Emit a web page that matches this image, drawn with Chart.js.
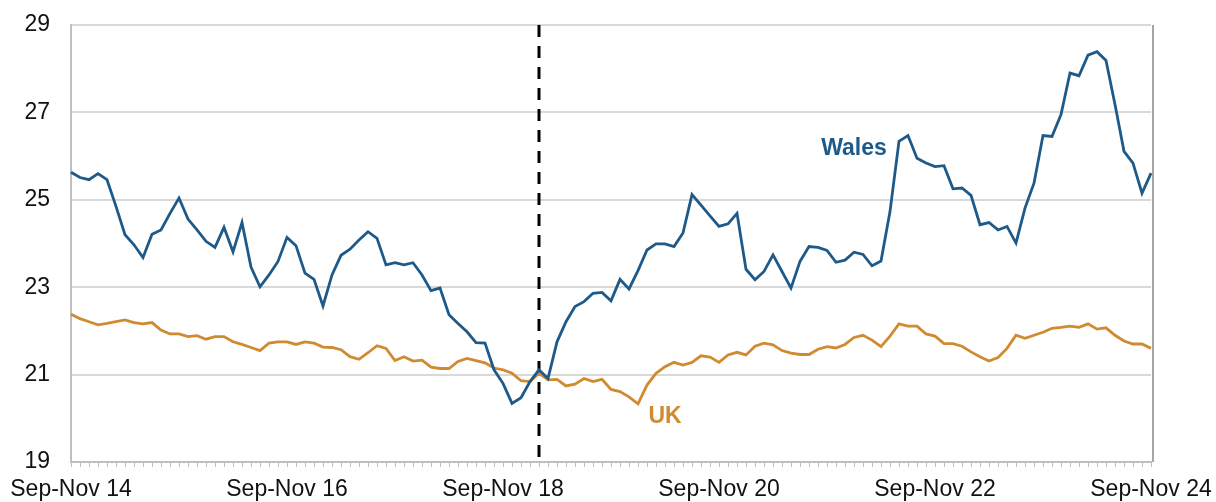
<!DOCTYPE html>
<html>
<head>
<meta charset="utf-8">
<script src="https://cdn.jsdelivr.net/npm/chart.js@4.4.1/dist/chart.umd.min.js"></script>
<style>
  html, body { margin: 0; padding: 0; background: #fff; }
  #wrap { width: 1216px; height: 502px; position: relative; }
</style>
</head>
<body>
<div id="wrap"><canvas id="chart"></canvas></div>
<script>
// rolling three-month periods, Sep-Nov 14 to Sep-Nov 24
const monthNames = ['Jan','Feb','Mar','Apr','May','Jun','Jul','Aug','Sep','Oct','Nov','Dec'];
const periods = [];
for (let i = 0; i <= 120; i++) {
    const yr = 14 + Math.floor((10 + i) / 12);
    periods.push(`${monthNames[(8 + i) % 12]}-${monthNames[(10 + i) % 12]} ${yr}`);
}

const wales = [
    25.63,25.51,25.46,25.60,25.46,24.85,24.20,23.97,23.68,24.21,
    24.31,24.69,25.04,24.56,24.31,24.05,23.91,24.37,23.81,24.48,
    23.46,23.01,23.28,23.59,24.14,23.95,23.32,23.18,22.57,23.28,
    23.73,23.87,24.08,24.27,24.12,23.51,23.56,23.51,23.56,23.28,
    22.92,22.98,22.37,22.17,21.98,21.73,21.72,21.11,20.80,20.34,
    20.47,20.84,21.11,20.91,21.75,22.21,22.56,22.67,22.86,22.88,
    22.69,23.18,22.96,23.38,23.85,23.99,23.99,23.93,24.24,25.12,
    24.88,24.63,24.39,24.45,24.69,23.41,23.17,23.36,23.74,23.36,
    22.98,23.59,23.93,23.91,23.84,23.57,23.62,23.80,23.75,23.49,
    23.60,24.73,26.34,26.47,25.95,25.84,25.76,25.78,25.25,25.27,
    25.10,24.43,24.48,24.31,24.39,24.01,24.81,25.38,26.47,26.45,
    26.95,27.90,27.84,28.31,28.39,28.19,27.18,26.11,25.84,25.15,25.61
];

const uk = [
    22.38,22.28,22.21,22.14,22.17,22.21,22.25,22.19,22.16,22.19,
    22.02,21.93,21.93,21.87,21.89,21.81,21.87,21.87,21.75,21.69,
    21.62,21.55,21.72,21.75,21.75,21.69,21.75,21.72,21.63,21.62,
    21.57,21.41,21.35,21.50,21.66,21.60,21.32,21.41,21.31,21.33,
    21.17,21.14,21.14,21.30,21.37,21.32,21.27,21.15,21.11,21.03,
    20.86,20.84,21.03,20.88,20.89,20.74,20.78,20.91,20.84,20.89,
    20.66,20.61,20.49,20.33,20.76,21.03,21.18,21.28,21.22,21.28,
    21.43,21.40,21.28,21.45,21.51,21.45,21.65,21.72,21.68,21.55,
    21.49,21.46,21.46,21.58,21.64,21.61,21.69,21.85,21.90,21.79,
    21.64,21.88,22.16,22.11,22.11,21.93,21.88,21.71,21.71,21.65,
    21.52,21.41,21.31,21.39,21.60,21.90,21.83,21.90,21.97,22.06,
    22.08,22.11,22.08,22.16,22.04,22.07,21.90,21.77,21.70,21.70,21.60
];

const yTicks = [19, 21, 23, 25, 27, 29];
const labelEvery = 24;
const breakIndex = 52;                 // dashed vertical marker
const walesLabel = { text: 'Wales', at: 87, value: 26.16 };
const ukLabel = { text: 'UK', at: 66, value: 20.04 };

const WALES_COLOR = '#1d5a8a';
const UK_COLOR = '#d08a2f';
const FONT = "'Liberation Sans', Arial, sans-serif";

const extras = {
    id: 'extras',
    beforeDatasetsDraw(chart) {
        const { ctx, chartArea: a, scales: { x } } = chart;
        const px = x.getPixelForValue(breakIndex);
        ctx.save();
        ctx.strokeStyle = '#000';
        ctx.lineWidth = 3;
        ctx.setLineDash([12, 9]);
        ctx.beginPath();
        ctx.moveTo(px, a.top);
        ctx.lineTo(px, a.bottom);
        ctx.stroke();
        ctx.restore();
    },
    afterDatasetsDraw(chart) {
        const { ctx, chartArea: a, scales: { x, y } } = chart;
        ctx.save();
        // right frame of the plot area
        ctx.strokeStyle = '#a6a6a6';
        ctx.lineWidth = 2;
        ctx.beginPath();
        ctx.moveTo(a.right + 2, a.top);
        ctx.lineTo(a.right + 2, a.bottom);
        ctx.stroke();

        ctx.font = `bold 23px ${FONT}`;
        ctx.textAlign = 'center';
        ctx.textBaseline = 'middle';
        ctx.fillStyle = WALES_COLOR;
        ctx.fillText(walesLabel.text, x.getPixelForValue(walesLabel.at), y.getPixelForValue(walesLabel.value));
        ctx.fillStyle = UK_COLOR;
        ctx.fillText(ukLabel.text, x.getPixelForValue(ukLabel.at), y.getPixelForValue(ukLabel.value));
        ctx.restore();
    }
};

new Chart(document.getElementById('chart'), {
    type: 'line',
    data: {
        labels: periods,
        datasets: [
            { label: 'Wales', data: wales, borderColor: WALES_COLOR, borderWidth: 2.8, pointRadius: 0, tension: 0 },
            { label: 'UK', data: uk, borderColor: UK_COLOR, borderWidth: 2.8, pointRadius: 0, tension: 0 }
        ]
    },
    options: {
        responsive: true,
        maintainAspectRatio: false,
        animation: false,
        layout: { padding: { top: 25, right: 65, left: 0, bottom: 0 } },
        plugins: {
            legend: { display: false },
            tooltip: { enabled: false }
        },
        scales: {
            x: {
                type: 'category',
                offset: false,
                afterFit: (s) => { s.height = 40; s.paddingLeft = 0; s.paddingRight = 0; },
                grid: { drawOnChartArea: false, drawTicks: true, tickLength: 5, color: '#bfbfbf' },
                border: { color: '#bfbfbf', width: 2 },
                ticks: {
                    autoSkip: false,
                    maxRotation: 0,
                    minRotation: 0,
                    padding: 9,
                    color: '#111',
                    font: { family: FONT, size: 23 },
                    callback: (v, i) => (i % labelEvery === 0 ? periods[i] : '')
                }
            },
            y: {
                min: 19,
                max: 29,
                afterFit: (s) => { s.width = 71; s.paddingTop = 0; s.paddingBottom = 0; },
                afterBuildTicks: (s) => { s.ticks = yTicks.map(v => ({ value: v })); },
                grid: { color: '#d9d9d9', lineWidth: 2, drawTicks: false },
                border: { color: '#bfbfbf', width: 2 },
                ticks: {
                    padding: 21,
                    color: '#111',
                    font: { family: FONT, size: 23 }
                }
            }
        }
    },
    plugins: [extras]
});
</script>
</body>
</html>
